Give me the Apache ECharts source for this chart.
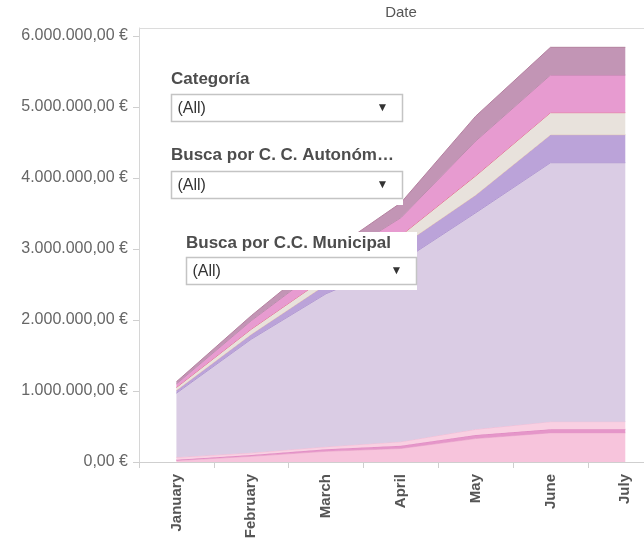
<!DOCTYPE html>
<html>
<head>
<meta charset="utf-8">
<script src="https://cdn.jsdelivr.net/npm/echarts@6/dist/echarts.min.js"></script>
<style>
  html, body { margin: 0; padding: 0; background: #fff; }
  #chart { width: 644px; height: 542px; }
</style>
</head>
<body>
<div id="chart"></div>
<script>
// meses del eje x
const months = ['January', 'February', 'March', 'April', 'May', 'June', 'July']
// capas apiladas, de abajo hacia arriba (euros)
const bottomPink = [20000, 80000, 150000, 190000, 330000, 410000, 410000]
const darkPink = [10000, 20000, 30000, 40000, 50000, 50000, 50000]
const lightPink = [36000, 30000, 35000, 56000, 80000, 108000, 108000]
const lavender = [904000, 1600000, 2155000, 2534000, 3050000, 3647000, 3647000]
const purple = [40000, 70000, 130000, 220000, 250000, 395000, 395000]
const beige = [40000, 70000, 100000, 150000, 270000, 310000, 310000]
const pink = [50000, 120000, 180000, 250000, 490000, 530000, 530000]
const mauve = [30000, 70000, 140000, 210000, 350000, 390000, 390000]
// filtros
const filterTitles = ['Categoría', 'Busca por C. C. Autonóm…', 'Busca por C.C. Municipal']
const filterValue = '(All)'

const FONT = '"Liberation Sans", Arial, Helvetica, sans-serif'

function euro(v) {
  const s = Math.round(v).toString().replace(/\B(?=(\d{3})+(?!\d))/g, '.')
  return s + ',00 €'
}

const layers = [
  { data: bottomPink, color: '#f7c4dc', line: '#eeb0cf' },
  { data: darkPink, color: '#e596c9', line: '#df88c1' },
  { data: lightPink, color: '#f9d0e2', line: '#f3bcd6' },
  { data: lavender, color: '#dacce4', line: '#a88ecb' },
  { data: purple, color: '#bba3d9', line: '#e6bca8' },
  { data: beige, color: '#e8e2dc', line: '#e0647e' },
  { data: pink, color: '#e79bd0', line: '#b783a8' },
  { data: mauve, color: '#c295b5', line: '#b4819f' }
]

// valor primero, mes despues: asi el apilado se hace sobre y
const seriesArr = layers.map((l, idx) => {
  return {
    type: 'line',
    stack: 'total',
    xAxisIndex: 0,
    encode: { x: 1, y: 0 },
    symbol: 'none',
    z: 2 + idx * 0.01,
    lineStyle: { width: 1, color: l.line },
    areaStyle: { color: l.color, opacity: 1 },
    data: l.data.map((v, i) => [v, i])
  }
})

// widgets de filtro (encima del gráfico)
function filterWidget(title, tx, ty, bx, by, bw) {
  return [
    { type: 'text', x: tx, y: ty, z: 101,
      style: { text: title, font: 'bold 17px ' + FONT, fill: '#4d4d4d', verticalAlign: 'middle' } },
    { type: 'rect', z: 101, shape: { x: bx, y: by, width: bw, height: 27 },
      style: { fill: '#fff', stroke: '#c4c4c4', lineWidth: 1.5 } },
    { type: 'text', x: bx + 6, y: by + 14, z: 102,
      style: { text: filterValue, font: '16px ' + FONT, fill: '#333', verticalAlign: 'middle' } },
    { type: 'text', x: bx + bw - 20, y: by + 13, z: 102,
      style: { text: '▼', font: '12px ' + FONT, fill: '#333', align: 'center', verticalAlign: 'middle' } }
  ]
}

const graphics = [
  { type: 'line', z: 50, shape: { x1: 139, y1: 28.5, x2: 644, y2: 28.5 },
    style: { stroke: '#dcdcdc', lineWidth: 1 } },
  // el eje x empieza un poco antes del eje y
  { type: 'line', z: 50, shape: { x1: 133, y1: 462.5, x2: 139, y2: 462.5 },
    style: { stroke: '#cfcfcf', lineWidth: 1 } },
  { type: 'text', x: 401, y: 13, z: 50,
    style: { text: 'Date', font: '15px ' + FONT, fill: '#555', align: 'center', verticalAlign: 'middle' } },
  // paneles blancos
  { type: 'rect', z: 100, shape: { x: 160, y: 60, width: 243, height: 145 }, style: { fill: '#fff' } },
  { type: 'rect', z: 100, shape: { x: 185, y: 232, width: 232, height: 58 }, style: { fill: '#fff' } }
]
  .concat(filterWidget(filterTitles[0], 171, 79, 171.5, 94.5, 231))
  .concat(filterWidget(filterTitles[1], 171, 155, 171.5, 171.5, 231))
  .concat(filterWidget(filterTitles[2], 186, 243, 186.5, 257.5, 230))

const chart = echarts.init(document.getElementById('chart'))
chart.setOption({
  animation: false,
  grid: { left: 139, right: 0, top: 28, bottom: 80 },
  xAxis: [
    {
      type: 'value',
      min: -0.5,
      max: 6.25,
      interval: 1,
      position: 'bottom',
      axisLine: { onZero: false, lineStyle: { color: '#cfcfcf' } },
      axisTick: { show: true, length: 6, lineStyle: { color: '#cfcfcf' } },
      axisLabel: { show: false },
      splitLine: { show: false }
    },
    {
      type: 'value',
      min: -0.5,
      max: 6.25,
      interval: 0.5,
      position: 'bottom',
      axisLine: { show: false, onZero: false },
      axisTick: { show: false },
      splitLine: { show: false },
      axisLabel: {
        rotate: 90,
        margin: 12,
        fontFamily: FONT,
        fontSize: 15,
        fontWeight: 'bold',
        color: '#555',
        formatter: function (v) {
          return Number.isInteger(v) && months[v] ? months[v] : ''
        }
      }
    }
  ],
  yAxis: {
    type: 'value',
    min: 0,
    max: 6112000,
    interval: 1000000,
    axisLine: { show: true, onZero: false, lineStyle: { color: '#d6d6d6' } },
    axisTick: { show: true, length: 6, lineStyle: { color: '#cfcfcf' } },
    splitLine: { show: false },
    axisLabel: {
      margin: 11,
      showMaxLabel: false,
      fontFamily: FONT,
      fontSize: 16,
      color: '#666',
      formatter: euro
    }
  },
  graphic: graphics,
  series: seriesArr
})
</script>
</body>
</html>
